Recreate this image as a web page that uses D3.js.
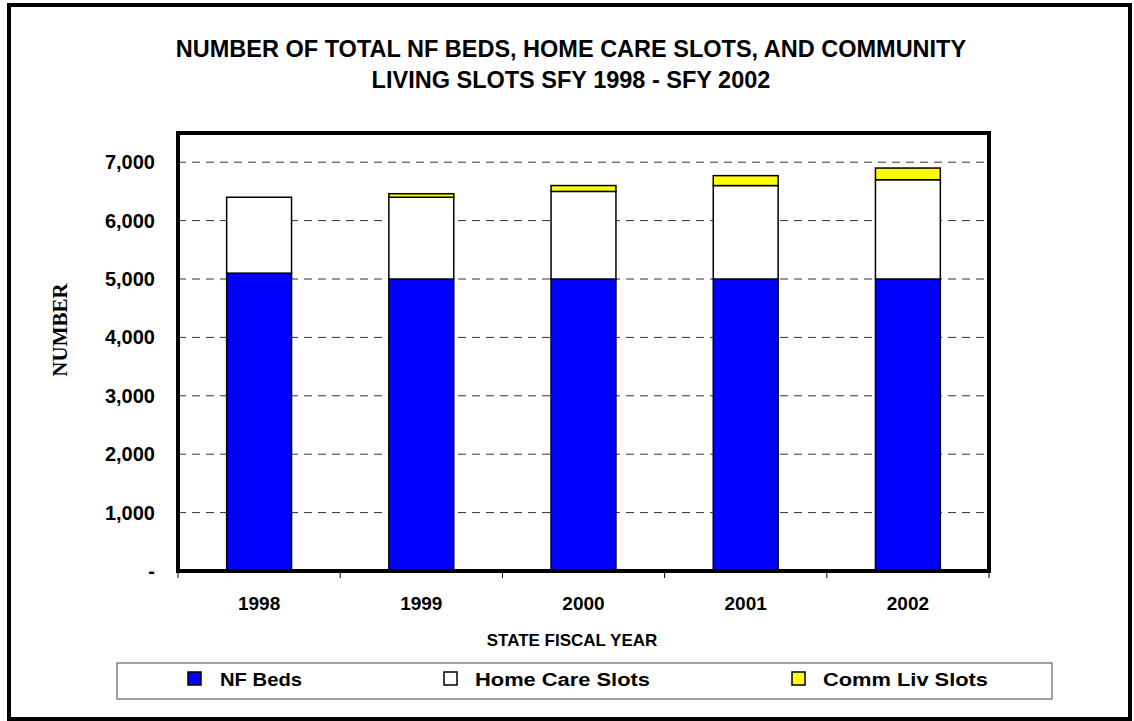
<!DOCTYPE html>
<html>
<head>
<meta charset="utf-8">
<script src="https://cdn.jsdelivr.net/npm/d3@7"></script>
<style>
  body { margin: 0; background: #fff; }
  text { font-family: Arial, "Liberation Sans", sans-serif; }
</style>
</head>
<body>
<svg id="chart" width="1134" height="721"></svg>
<script>
// data
var years = ['1998', '1999', '2000', '2001', '2002'];
var nfBeds = [5100, 5000, 5000, 5000, 5000];
var homeCare = [1300, 1400, 1500, 1600, 1700];
var commLiv = [0, 60, 100, 170, 200];
var yTicks = [0, 1000, 2000, 3000, 4000, 5000, 6000, 7000];

var seriesNames = ['NF Beds', 'Home Care Slots', 'Comm Liv Slots'];
var seriesKeys = ['nf', 'hc', 'cl'];
var colors = ['#0000ff', '#ffffff', '#ffff00'];

var rows = years.map(function(y, i) {
    return { year: y, nf: nfBeds[i], hc: homeCare[i], cl: commLiv[i] };
});

var svg = d3.select('#chart');

// outer frame
svg.append('rect')
    .attr('x', 9).attr('y', 5)
    .attr('width', 1121).attr('height', 714)
    .attr('fill', 'none')
    .attr('stroke', '#000')
    .attr('stroke-width', 4);

// title
var title = svg.append('text')
    .attr('text-anchor', 'middle')
    .style('font-size', '23.5px')
    .style('font-weight', 'bold');
title.append('tspan').attr('x', 571).attr('y', 57)
    .text('NUMBER OF TOTAL NF BEDS, HOME CARE SLOTS, AND COMMUNITY');
title.append('tspan').attr('x', 571).attr('y', 88)
    .text('LIVING SLOTS SFY 1998 - SFY 2002');

var plot = {l: 178, r: 989, t: 133, b: 571};

var x = d3.scaleBand()
    .domain(years)
    .range([plot.l, plot.r])
    .paddingInner(0.6)
    .paddingOuter(0.3);

var y = d3.scaleLinear()
    .domain([0, 7500])
    .range([plot.b, plot.t]);

// gridlines
svg.append('g')
    .selectAll('line')
    .data(yTicks.filter(function(d) { return d > 0; }))
    .join('line')
    .attr('x1', plot.l).attr('x2', plot.r)
    .attr('y1', function(d) { return y(d); })
    .attr('y2', function(d) { return y(d); })
    .attr('stroke', '#333')
    .attr('stroke-width', 1)
    .attr('stroke-dasharray', '8,6');

// stacked bars
var stack = d3.stack().keys(seriesKeys)(rows);

svg.append('g')
    .selectAll('g')
    .data(stack)
    .join('g')
    .attr('fill', function(d, i) { return colors[i]; })
    .selectAll('rect')
    .data(function(d) { return d.filter(function(p) { return p[1] - p[0] > 0; }); })
    .join('rect')
    .attr('x', function(d) { return x(d.data.year); })
    .attr('y', function(d) { return y(d[1]); })
    .attr('width', x.bandwidth())
    .attr('height', function(d) { return y(d[0]) - y(d[1]); })
    .attr('stroke', '#000')
    .attr('stroke-width', 1.5);

// plot frame
svg.append('rect')
    .attr('x', plot.l).attr('y', plot.t)
    .attr('width', plot.r - plot.l)
    .attr('height', plot.b - plot.t)
    .attr('fill', 'none')
    .attr('stroke', '#000')
    .attr('stroke-width', 4);

// y axis labels
svg.append('g')
    .selectAll('text')
    .data(yTicks)
    .join('text')
    .attr('x', 155)
    .attr('y', function(d) { return y(d) + 7; })
    .attr('text-anchor', 'end')
    .style('font-size', '20px')
    .style('font-weight', 'bold')
    .text(function(d) { return d === 0 ? '-' : d3.format(',')(d); });

// x axis ticks at category boundaries
var step = (plot.r - plot.l) / years.length;
svg.append('g')
    .selectAll('line')
    .data(d3.range(years.length + 1))
    .join('line')
    .attr('x1', function(i) { return plot.l + i * step; })
    .attr('x2', function(i) { return plot.l + i * step; })
    .attr('y1', plot.b)
    .attr('y2', plot.b + 7)
    .attr('stroke', '#000')
    .attr('stroke-width', 1);

svg.append('g')
    .selectAll('text')
    .data(years)
    .join('text')
    .attr('x', function(d) { return x(d) + x.bandwidth() / 2; })
    .attr('y', 610)
    .attr('text-anchor', 'middle')
    .style('font-size', '19px')
    .style('font-weight', 'bold')
    .text(function(d) { return d; });

svg.append('text')
    .attr('x', 572).attr('y', 646)
    .attr('text-anchor', 'middle')
    .style('font-size', '17px')
    .style('font-weight', 'bold')
    .text('STATE FISCAL YEAR');

svg.append('text')
    .attr('transform', 'translate(67, 330) rotate(-90)')
    .attr('text-anchor', 'middle')
    .style('font-family', '"Liberation Serif", "Times New Roman", serif')
    .style('font-size', '21px')
    .style('font-weight', 'bold')
    .text('NUMBER');

// legend
svg.append('rect')
    .attr('x', 117).attr('y', 663)
    .attr('width', 935).attr('height', 36)
    .attr('fill', '#fff')
    .attr('stroke', '#444')
    .attr('stroke-width', 1);

var legendX = [188, 444, 792];
var legendLen = [82, 175, 165];
var legend = svg.append('g')
    .selectAll('g')
    .data(seriesNames)
    .join('g')
    .attr('transform', function(d, i) { return 'translate(' + legendX[i] + ',672)'; });

legend.append('rect')
    .attr('width', 13).attr('height', 13)
    .attr('fill', function(d, i) { return colors[i]; })
    .attr('stroke', '#000')
    .attr('stroke-width', 1.5);

legend.append('text')
    .attr('x', function(d, i) { return i === 0 ? 32 : 31; })
    .attr('y', 14)
    .attr('textLength', function(d, i) { return legendLen[i]; })
    .attr('lengthAdjust', 'spacingAndGlyphs')
    .style('font-size', '18px')
    .style('font-weight', 'bold')
    .text(function(d) { return d; });
</script>
</body>
</html>
